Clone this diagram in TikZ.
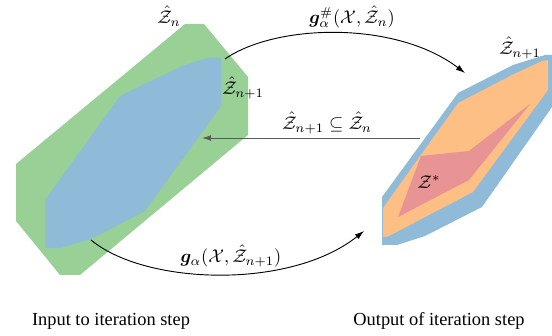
\documentclass[tikz,border=0pt]{standalone}
\usepackage{amsmath,amssymb,bm}
\usepackage{fontspec}
\newfontfamily\capfont{Liberation Serif}
\usetikzlibrary{arrows.meta}
\definecolor{cgreen}{RGB}{152,208,150}
\definecolor{cblue}{RGB}{143,186,216}
\definecolor{corange}{RGB}{253,191,131}
\definecolor{cred}{RGB}{232,147,148}
\definecolor{cgrayline}{RGB}{90,90,90}
\begin{document}
\begin{tikzpicture}[x=0.5435pt,y=-0.5435pt,
  arr/.style={-{Latex[length=5pt,width=3.2pt]}, line width=0.5pt},
  lbl/.style={inner sep=0pt, font=\fontsize{10}{12}\selectfont},
  captext/.style={inner sep=0pt, anchor=base, font=\capfont\fontsize{10}{12}\selectfont}]
\useasboundingbox (0,0) rectangle (552,336);
% left shapes
\fill[cgreen] (185,24) -- (204,24) -- (248,77) -- (248,135) -- (80,275) -- (60,275) -- (16,221) -- (16,164) -- cycle;
\fill[cblue] (207,58) -- (221,58) -- (221,106) -- (145,211) -- (91,239) -- (60,248) -- (45,248) -- (45,200) -- (120,96) -- (180,67) -- cycle;
% right shapes
\fill[cblue] (458,93) -- (513,65) -- (545,55) -- (552,55) -- (552,107) -- (482,207) -- (425,236) -- (397,245) -- (382,245) -- (382,197) -- cycle;
\fill[corange] (458,103) -- (514,74) -- (542,61) -- (548,60) -- (548,90) -- (473,192) -- (387,237) -- (383,237) -- (383,208) -- cycle;
\fill[cred] (530,104) -- (469,151) -- (421,156) -- (398,217) -- (469,180) -- cycle;
% labels
\node[lbl] (zn) at (169,16) {$\hat{\mathcal{Z}}_n$};
\node[lbl] (znl) at (243,88) {$\hat{\mathcal{Z}}_{n+1}$};
\node[lbl] (znr) at (520,48) {$\hat{\mathcal{Z}}_{n+1}$};
\node[lbl] (zs) at (429,182) {$\mathcal{Z}^{*}$};
\node[lbl] (gsharp) at (352,17) {$\boldsymbol{g}_{\alpha}^{\#}(\mathcal{X},\hat{\mathcal{Z}}_n)$};
\node[lbl] (sub) at (327,123) {$\hat{\mathcal{Z}}_{n+1}\subseteq\hat{\mathcal{Z}}_n$};
\node[lbl] (galpha) at (231,256) {$\boldsymbol{g}_{\alpha}(\mathcal{X},\hat{\mathcal{Z}}_{n+1})$};
\node[captext] (in) at (111,326) {Input to iteration step};
\node[captext] (out) at (439,326) {Output of iteration step};
% connector ends
\coordinate (a1) at (225,59);
\coordinate (a2) at (465,73);
\coordinate (b1) at (420,138);
\coordinate (b2) at (202,138);
\coordinate (c1) at (91,240);
\coordinate (c2) at (364,231);
\draw[arr] (a1) .. controls (275,24) and (395,20) .. (a2);
\draw[arr, cgrayline] (b1) -- (b2);
\draw[arr] (c1) .. controls (145,285) and (290,290) .. (c2);
\end{tikzpicture}
\end{document}
